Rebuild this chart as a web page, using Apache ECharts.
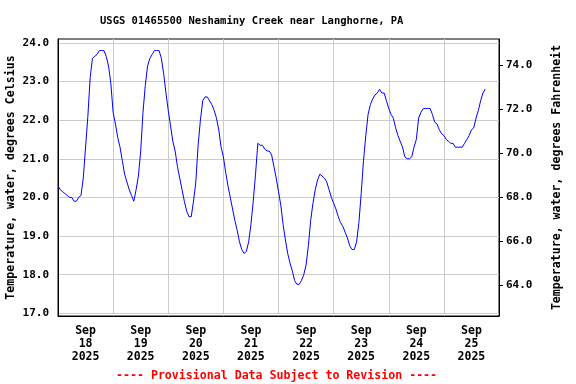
<!DOCTYPE html>
<html><head><meta charset="utf-8">
<script src="https://cdn.jsdelivr.net/npm/echarts@6/dist/echarts.min.js"></script>
<style>html,body{margin:0;padding:0;background:#fff}#c{width:576px;height:384px}</style>
</head><body><div id="c"></div>
<script>
// Hourly water temperature (deg C), starting Sep 18 2025 00:00
const sep18 = [20.3, 20.2, 20.15, 20.1, 20.05, 20.0, 20.0, 19.9, 19.9, 20.0, 20.05, 20.5, 21.3, 22.1, 23.1, 23.6, 23.65, 23.7, 23.8, 23.8, 23.8, 23.65, 23.4, 22.95];
const sep19 = [22.2, 21.9, 21.55, 21.3, 20.95, 20.6, 20.4, 20.2, 20.05, 19.9, 20.2, 20.55, 21.2, 22.2, 22.9, 23.4, 23.6, 23.7, 23.8, 23.8, 23.8, 23.6, 23.2, 22.7];
const sep20 = [22.25, 21.85, 21.45, 21.2, 20.8, 20.5, 20.2, 19.9, 19.65, 19.5, 19.5, 19.9, 20.4, 21.35, 22.0, 22.5, 22.6, 22.6, 22.5, 22.4, 22.25, 22.05, 21.75, 21.3];
const sep21 = [21.05, 20.65, 20.3, 20.0, 19.7, 19.4, 19.15, 18.85, 18.65, 18.55, 18.6, 18.85, 19.3, 19.9, 20.6, 21.4, 21.35, 21.35, 21.25, 21.2, 21.2, 21.1, 20.8, 20.5];
const sep22 = [20.15, 19.8, 19.3, 18.9, 18.55, 18.3, 18.1, 17.85, 17.75, 17.75, 17.85, 18.0, 18.25, 18.75, 19.4, 19.85, 20.2, 20.45, 20.6, 20.55, 20.5, 20.4, 20.2, 20.0];
const sep23 = [19.85, 19.7, 19.5, 19.35, 19.25, 19.1, 18.95, 18.75, 18.65, 18.65, 18.85, 19.35, 20.1, 20.95, 21.6, 22.15, 22.4, 22.55, 22.65, 22.7, 22.8, 22.7, 22.7, 22.5];
const sep24 = [22.3, 22.15, 22.05, 21.8, 21.6, 21.45, 21.3, 21.05, 21.0, 21.0, 21.05, 21.3, 21.5, 22.05, 22.2, 22.3, 22.3, 22.3, 22.3, 22.15, 21.95, 21.9, 21.75, 21.65];
const sep25 = [21.6, 21.5, 21.45, 21.4, 21.4, 21.3, 21.3, 21.3, 21.3, 21.4, 21.5, 21.6, 21.75, 21.8, 22.05, 22.25, 22.5, 22.7, 22.8];

const dayLabels = ['18', '19', '20', '21', '22', '23', '24', '25'];
const monthLabel = 'Sep';
const yearLabel = '2025';
const celsiusTicks = [17, 18, 19, 20, 21, 22, 23, 24];
const fahrenheitTicks = [64, 66, 68, 70, 72, 74];

const temps = [].concat(sep18, sep19, sep20, sep21, sep22, sep23, sep24, sep25);
const seriesData = temps.map((v, i) => [i, v]);

const FONT = '"DejaVu Sans Mono", monospace';
const chart = echarts.init(document.getElementById('c'), null, {renderer: 'canvas'});
chart.setOption({
  animation: false,
  backgroundColor: '#fff',
  title: [
    {text: 'USGS 01465500 Neshaminy Creek near Langhorne, PA', left: 95, top: 11,
     textStyle: {fontFamily: FONT, fontSize: 10.5, fontWeight: 'bold', color: '#000'}},
    {text: '---- Provisional Data Subject to Revision ----', left: 111, top: 365,
     textStyle: {fontFamily: FONT, fontSize: 11.6, fontWeight: 'bold', color: '#ff0000'}}
  ],
  grid: {left: 58, right: 77, top: 39, bottom: 68, containLabel: false, outerBoundsMode: 'none',
         show: true, borderColor: '#000', borderWidth: 1, backgroundColor: 'transparent'},
  xAxis: [
    {type: 'value', min: 0, max: 192, interval: 24, position: 'bottom',
     axisLine: {show: true, onZero: false, lineStyle: {color: '#000'}}, axisTick: {show: false}, axisLabel: {show: false},
     splitLine: {show: true, lineStyle: {color: '#cccccc', width: 1}}},
    {type: 'value', min: 0, max: 192, interval: 12, position: 'bottom',
     axisLine: {show: false, onZero: false}, axisTick: {show: false}, splitLine: {show: false},
     axisLabel: {show: true, margin: 9, fontFamily: FONT, fontSize: 11.5, fontWeight: 'bold', color: '#000', lineHeight: 12.7,
       formatter: function (v) {
         if (v % 24 !== 12) return '';
         const idx = (v - 12) / 24;
         if (idx < 0 || idx >= dayLabels.length) return '';
         return monthLabel + '\n' + dayLabels[idx] + '\n' + yearLabel;
       }}}
  ],
  yAxis: [
    {type: 'value', min: 16.93, max: 24.10, position: 'left',
     name: 'Temperature, water, degrees Celsius', nameLocation: 'middle', nameRotate: 90, nameGap: 41,
     nameMoveOverlap: false,
     nameTextStyle: {fontFamily: FONT, fontSize: 11.6, fontWeight: 'bold', color: '#000'},
     axisLine: {show: true, onZero: false, lineStyle: {color: '#000'}},
     axisTick: {show: false, customValues: celsiusTicks},
     axisLabel: {customValues: celsiusTicks, margin: 9, fontFamily: FONT, fontSize: 11, fontWeight: 'bold', color: '#000',
       formatter: v => v.toFixed(1)},
     splitLine: {show: true, lineStyle: {color: '#cccccc', width: 1}}},
    {type: 'value', min: 62.6, max: 75.18, position: 'right',
     name: 'Temperature, water, degrees Fahrenheit', nameLocation: 'middle', nameRotate: 90, nameGap: 52,
     nameMoveOverlap: false,
     nameTextStyle: {fontFamily: FONT, fontSize: 11.6, fontWeight: 'bold', color: '#000'},
     axisLine: {show: true, onZero: false, lineStyle: {color: '#000'}},
     axisTick: {show: true, inside: false, length: 4, customValues: fahrenheitTicks, lineStyle: {color: '#000'}},
     axisLabel: {customValues: fahrenheitTicks, margin: 7, fontFamily: FONT, fontSize: 11, fontWeight: 'bold', color: '#000',
       formatter: v => v.toFixed(1)},
     splitLine: {show: false}}
  ],
  series: [{
    type: 'line', xAxisIndex: 0, yAxisIndex: 0, data: seriesData,
    showSymbol: false, symbol: 'none', smooth: false,
    lineStyle: {color: '#0000ff', width: 1}
  }]
});
</script>
</body></html>
